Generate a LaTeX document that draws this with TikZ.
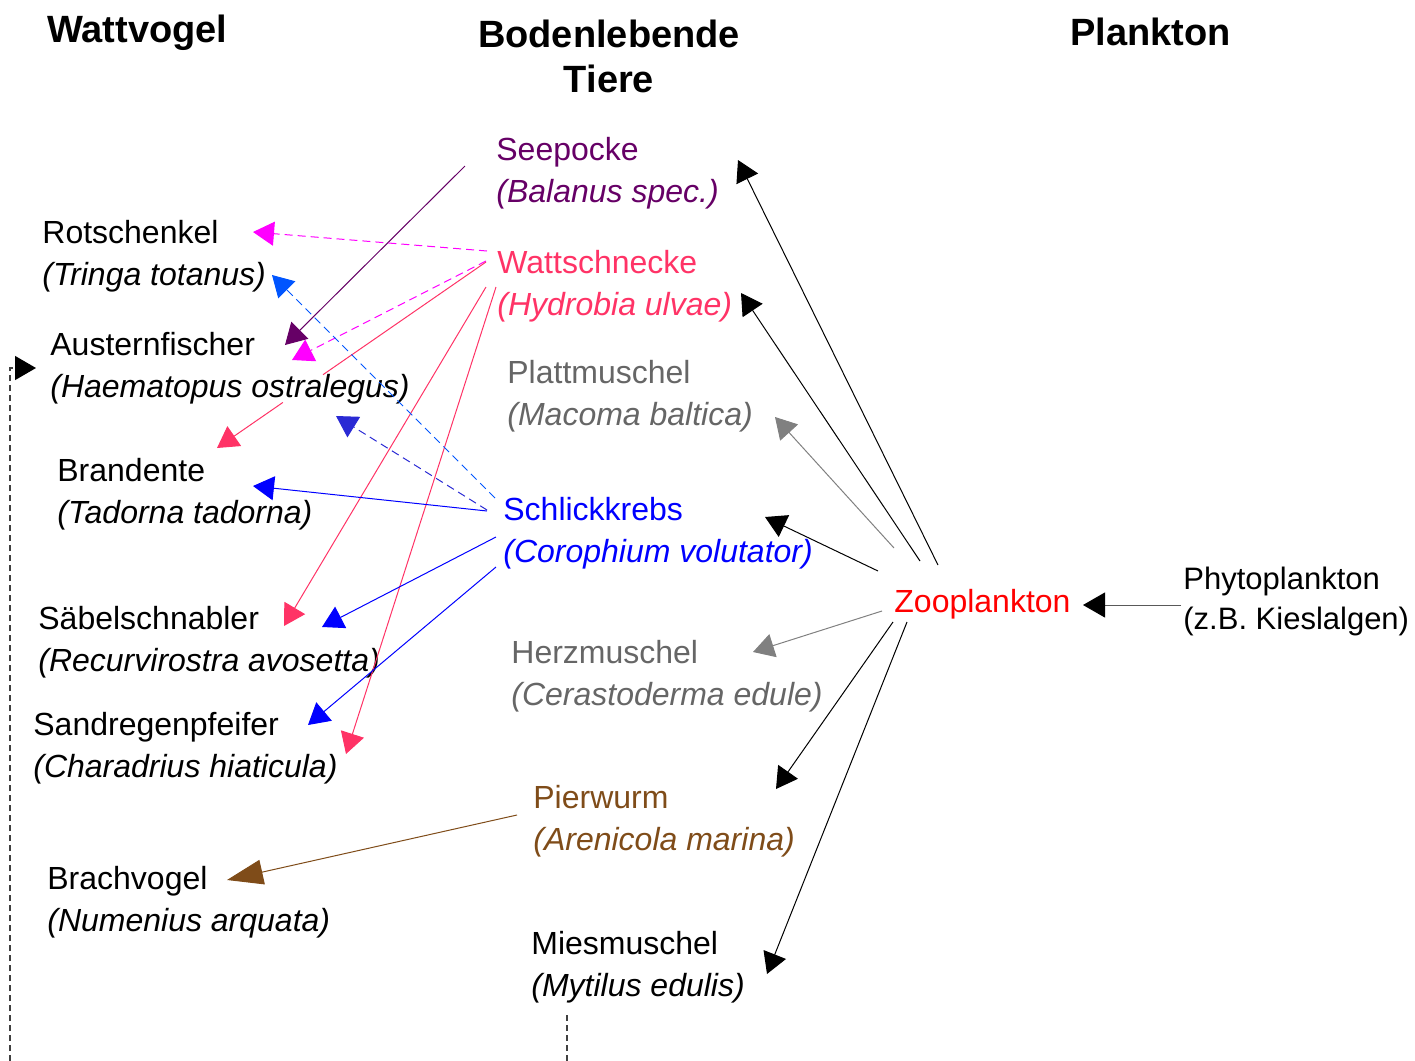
\documentclass[tikz,border=0pt]{standalone}
\usepackage{fontspec}
\setmainfont{Liberation Sans}
\usetikzlibrary{arrows.meta}
\usetikzlibrary{calc}

\definecolor{seepurple}{HTML}{660066}
\definecolor{wattpink}{HTML}{FF3366}
\definecolor{dashpink}{HTML}{FF00FF}
\definecolor{shellgray}{HTML}{666666}
\definecolor{arrowgray}{HTML}{808080}
\definecolor{krebsblue}{HTML}{0000FF}
\definecolor{lightblue}{HTML}{0055FF}
\definecolor{darkblue}{HTML}{2A2AD4}
\definecolor{wurmbrown}{HTML}{7F4C19}
\definecolor{zoored}{HTML}{FF0000}

\tikzset{
	species/.style = {anchor = base west, align = left, inner sep = 0pt, font = \fontsize{16}{21}\selectfont},
	heading/.style = {inner sep = 0pt, font = \fontsize{19}{22.5}\selectfont\bfseries},
	feeds/.style = {line width = 0.5pt, -{Triangle[length = 10.5pt, width = 12pt]}},
	dashes/.style = {dash pattern = on 4pt off 2.5pt},
	offpage/.style = {line width = 0.7pt, black!75, dash pattern = on 3pt off 2pt}
}

\begin{document}
\begin{tikzpicture}[x = 0.5pt, y = -0.5pt]
		\useasboundingbox (0,0) rectangle (1415,1061);
		%
		\node (wattvogel) [heading, anchor = base west] at (47,42){Wattvogel};
		\node (boden) [heading, anchor = base, align = center] at (609,92){Bodenlebende\\Tiere};
		\node (plankton) [heading, anchor = base west] at (1070,45){Plankton};
		%
		\node (rotschenkel) [species] at (42,285){Rotschenkel\\\textit{(Tringa totanus)}};
		\node (austernfischer) [species] at (50,397){Austernfischer\\\textit{(Haematopus ostralegus)}};
		\node (brandente) [species] at (57,523){Brandente\\\textit{(Tadorna tadorna)}};
		\node (saebelschnabler) [species] at (38,671){Säbelschnabler\\\textit{(Recurvirostra avosetta)}};
		\node (sandregenpfeifer) [species] at (33,777){Sandregenpfeifer\\\textit{(Charadrius hiaticula)}};
		\node (brachvogel) [species] at (47,931){Brachvogel\\\textit{(Numenius arquata)}};
		%
		\node (seepocke) [species, seepurple] at (496,202){Seepocke\\\textit{(Balanus spec.)}};
		\node (wattschnecke) [species, wattpink] at (497,315){Wattschnecke\\\textit{(Hydrobia ulvae)}};
		\node (plattmuschel) [species, shellgray] at (507,425){Plattmuschel\\\textit{(Macoma baltica)}};
		\node (schlickkrebs) [species, krebsblue] at (503,562){Schlickkrebs\\\textit{(Corophium volutator)}};
		\node (herzmuschel) [species, shellgray] at (511,705){Herzmuschel\\\textit{(Cerastoderma edule)}};
		\node (pierwurm) [species, wurmbrown] at (533,850){Pierwurm\\\textit{(Arenicola marina)}};
		\node (miesmuschel) [species] at (531,996){Miesmuschel\\\textit{(Mytilus edulis)}};
		%
		\node (zooplankton) [species, zoored] at (894,612){Zooplankton};
		\node (phytoplankton) [species, font = \fontsize{15.5}{20}\selectfont] at (1183,629){Phytoplankton\\(z.B. Kieslalgen)};
		%
		\draw [feeds, seepurple] ([shift = {(-31,-36)}]seepocke.base west) -- ([shift = {(235,-52)}]austernfischer.base west);
		%
		\draw [feeds, dashes, dashpink] ([shift = {(-10,-64)}]wattschnecke.base west) -- ([shift = {(211,-53)}]rotschenkel.base west);
		\draw [feeds, dashes, dashpink] ([shift = {(-11,-54)}]wattschnecke.base west) -- ([shift = {(242,-37)}]austernfischer.base west);
		\coordinate (wsa) at ([shift = {(-11,-53)}]wattschnecke.base west);
		\coordinate (bda) at ([shift = {(160,-75)}]brandente.base west);
		\draw [wattpink, line width = 0.5pt] (wsa) -- ($(wsa)!0.606!(bda)$);
		\draw [feeds, wattpink] ($(wsa)!0.755!(bda)$) -- (bda);
		\draw [feeds, wattpink] ([shift = {(-11,-28)}]wattschnecke.base west) -- ([shift = {(246,-45)}]saebelschnabler.base west);
		\draw [feeds, wattpink] ([shift = {(-1,-28)}]wattschnecke.base west) -- ([shift = {(313,-23)}]sandregenpfeifer.base west);
		%
		\draw [feeds, dashes, lightblue] ([shift = {(-8,-64)}]schlickkrebs.base west) -- ([shift = {(230,-10)}]rotschenkel.base west);
		\draw [feeds, dashes, darkblue] ([shift = {(-16,-52)}]schlickkrebs.base west) -- ([shift = {(286,19)}]austernfischer.base west);
		\draw [feeds, krebsblue] ([shift = {(-16,-51)}]schlickkrebs.base west) -- ([shift = {(196,-37)}]brandente.base west);
		\draw [feeds, krebsblue] ([shift = {(-7,-25)}]schlickkrebs.base west) -- ([shift = {(284,-44)}]saebelschnabler.base west);
		\draw [feeds, krebsblue] ([shift = {(-7,5)}]schlickkrebs.base west) -- ([shift = {(275,-52)}]sandregenpfeifer.base west);
		%
		\draw [wurmbrown, line width = 0.5pt, -{Triangle[length = 18pt, width = 12.5pt]}] ([shift = {(-16,-35)}]pierwurm.base west) -- ([shift = {(180,-51)}]brachvogel.base west);
		%
		\draw [feeds] ([shift = {(44,-47)}]zooplankton.base west) -- ([shift = {(242,-42)}]seepocke.base west);
		\draw [feeds] ([shift = {(26,-51)}]zooplankton.base west) -- ([shift = {(244,-22)}]wattschnecke.base west);
		\draw [feeds, arrowgray] ([shift = {(0,-64)}]zooplankton.base west) -- ([shift = {(268,-8)}]plattmuschel.base west);
		\draw [feeds] ([shift = {(-16,-41)}]zooplankton.base west) -- ([shift = {(262,-45)}]schlickkrebs.base west);
		\draw [feeds, arrowgray] ([shift = {(-12,-1)}]zooplankton.base west) -- ([shift = {(242,-53)}]herzmuschel.base west);
		\draw [feeds] ([shift = {(-1,10)}]zooplankton.base west) -- ([shift = {(243,-61)}]pierwurm.base west);
		\draw [feeds] ([shift = {(13,10)}]zooplankton.base west) -- ([shift = {(236,-22)}]miesmuschel.base west);
		%
		\draw [line width = 0.5pt, black!65, -{Triangle[length = 11pt, width = 12.5pt, black]}] ([shift = {(-2,-24)}]phytoplankton.base west) -- ([shift = {(189,-7)}]zooplankton.base west);
		%
		\coordinate (fromleft) at (10,1061);
		\coordinate (tobottom) at (567,1061);
		\draw [offpage, -{Triangle[length = 10.5pt, width = 12pt, black]}] (fromleft) |- ([shift = {(-14,-29)}]austernfischer.base west);
		\draw [offpage] ([shift = {(36,19)}]miesmuschel.base west) -- (tobottom);
	\end{tikzpicture}
\end{document}
